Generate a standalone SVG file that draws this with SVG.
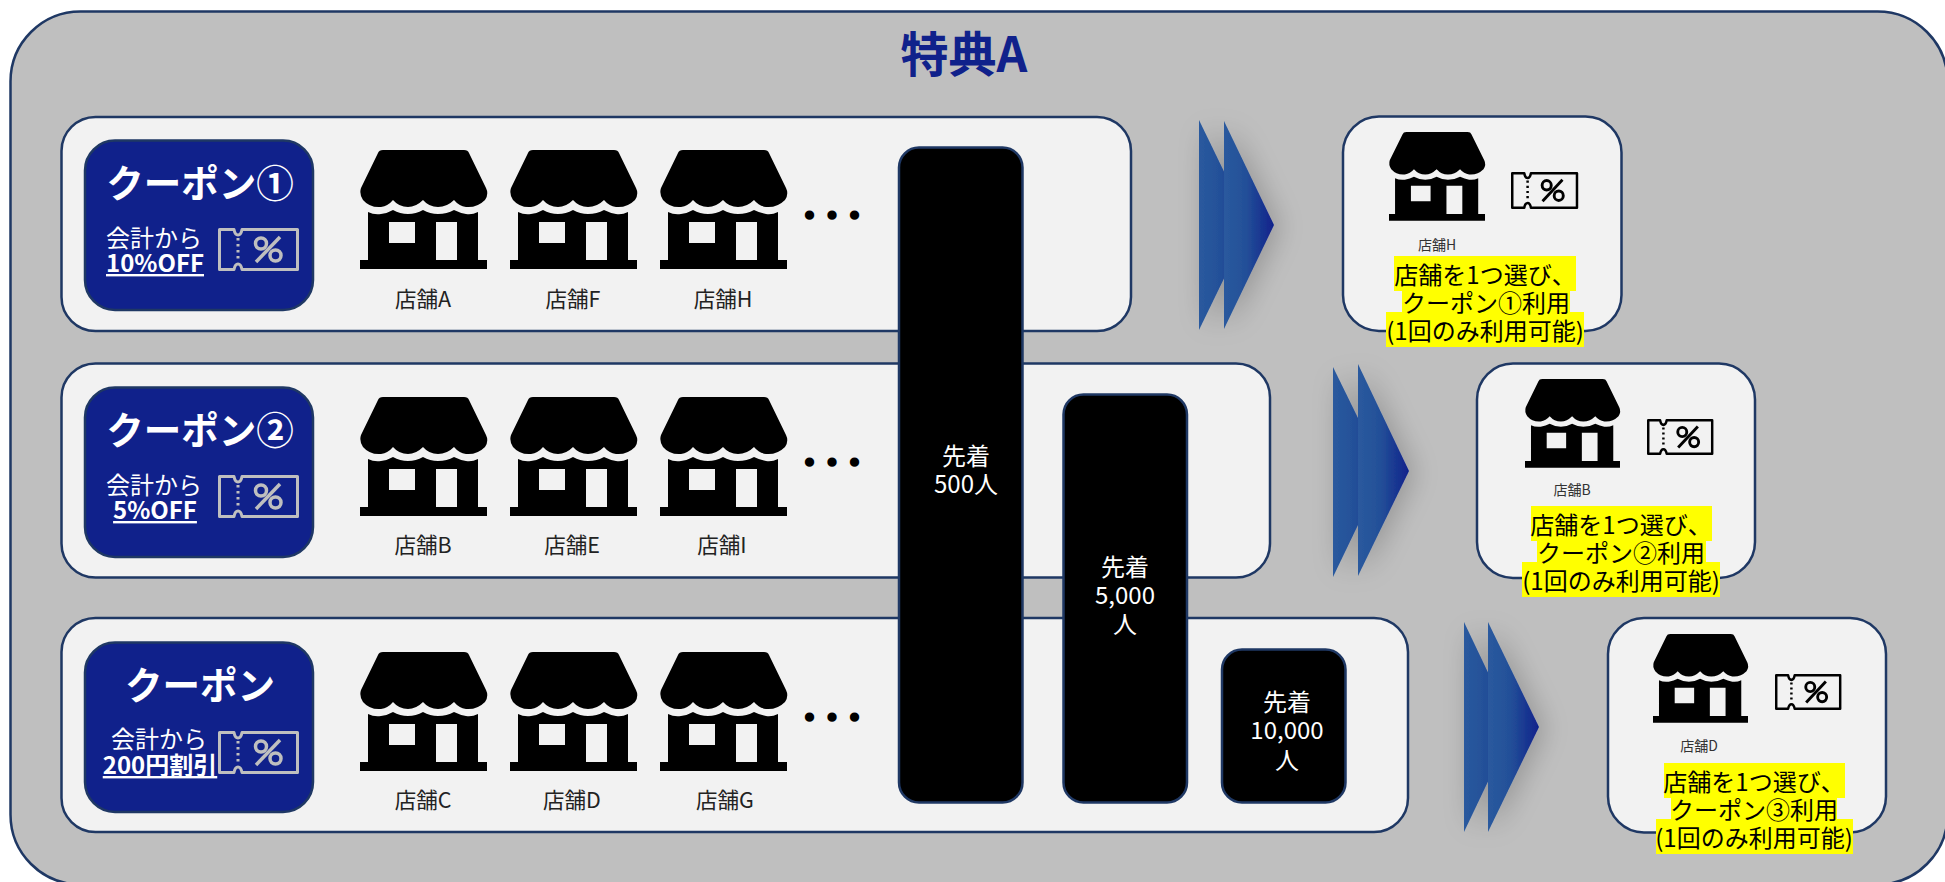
<svg xmlns="http://www.w3.org/2000/svg" width="1945" height="882" viewBox="0 0 1945 882">
<style>
text{font-family:"Noto Sans CJK JP","Noto Sans CJK SC","Liberation Sans",sans-serif;text-anchor:middle}
.outer{fill:#bfbfbf;stroke:#1f3864;stroke-width:2.5}
.panel{fill:#f2f2f2;stroke:#1f3864;stroke-width:2.5}
.coupon{fill:#10218b;stroke:#1f3864;stroke-width:2.5}
.limit{fill:#000;stroke:#1f3864;stroke-width:2.5}
.ttl{font-size:37.5px;font-weight:700;fill:#fff}
.sub{font-size:24px;fill:#fff}
.amt{font-size:24px;font-weight:700;fill:#fff;text-decoration:underline}
.lbl{font-size:21.5px;fill:#222}
.small{font-size:14px;fill:#333}
.lim{font-size:24px;fill:#fff}
.note{font-size:24px;fill:#000}
.hl{fill:#ffff00}
.dots{font-size:22.5px;font-weight:700;fill:#000;stroke:#000;stroke-width:3.5}
.tk{fill:none;stroke-width:3;stroke-linejoin:round}
.tkg{stroke:#bfbfbf}
.tkb{stroke:#000}
</style>
<defs>
<linearGradient id="arrowGrad" x1="0" y1="0" x2="1" y2="0"><stop offset="0" stop-color="#2a5a9e"/><stop offset="0.45" stop-color="#234f98"/><stop offset="1" stop-color="#10218b"/></linearGradient>
<filter id="glow" x="-60%" y="-30%" width="220%" height="160%"><feGaussianBlur in="SourceAlpha" stdDeviation="14"/><feOffset dx="6" dy="2"/><feComponentTransfer><feFuncA type="linear" slope="0.22"/></feComponentTransfer><feMerge><feMergeNode/><feMergeNode in="SourceGraphic"/></feMerge></filter>
<path id="store" fill="#000" fill-rule="evenodd" d="M18 3Q19 0 23 0H104Q108 0 109 3L126 38Q129 44 125 50Q117 58 106 57Q99 56 94 50Q87 57 78 57Q69 57 63 50Q56 57 48 57Q39 57 33 50Q28 56 21 57Q10 58 3 50Q-1 44 1 38ZM8 62Q14 65 21 64Q28 63 33 60Q40 64 48 64Q56 64 63 60Q70 64 78 64Q87 64 94 60Q100 63 106 64Q112 65 118 62V110H127V119H0V110H8ZM29 72V93H55V72ZM76 72V110H97V72Z"/>
<g id="ticket">
<path d="M1.5 1.5H16Q17 7 20 7Q23 7 24 1.5H79.500V41.500H24Q23 36 20 36Q17 36 16 41.500H1.500Z"/>
<path d="M20 10V34" stroke-dasharray="2.500 3.500"/>
<path d="M38 34L62 9" stroke-width="3.500"/>
<circle cx="43" cy="15.500" r="5.500" stroke-width="3.500"/>
<circle cx="57.500" cy="27.500" r="5.500" stroke-width="3.500"/>
</g>
</defs>

<rect id="bg" width="1945" height="882" fill="#fff"/>
<g id="frame">
<rect class="outer" x="10.500" y="11.500" width="1937" height="873" rx="70"/>
<text x="964" y="72" font-size="48" font-weight="700" fill="#10218b">特典A</text>
</g>

<g id="row1">
<rect class="panel" x="61.500" y="117" width="1069.500" height="214" rx="34"/>
<g id="coupon1"><rect class="coupon" x="85" y="140.500" width="228" height="169.500" rx="30"/>
<text class="ttl" x="200" y="197">クーポン①</text><text class="sub" x="154" y="247">会計から</text><text class="amt" x="155" y="272">10%OFF</text>
<use href="#ticket" class="tk tkg" x="218" y="228"/></g>
<g id="store1a"><use href="#store" x="360" y="150"/><text class="lbl" x="423" y="307">店舗A</text></g>
<g id="store1b"><use href="#store" x="510" y="150"/><text class="lbl" x="573" y="307">店舗F</text></g>
<g id="store1c"><use href="#store" x="660" y="150"/><text class="lbl" x="723" y="307">店舗H</text></g>
<text class="dots" x="832" y="224">・・・</text>
</g>

<g id="row2">
<rect class="panel" x="61.500" y="363.500" width="1208.500" height="214" rx="34"/>
<g id="coupon2"><rect class="coupon" x="85" y="387.500" width="228" height="169.500" rx="30"/>
<text class="ttl" x="200" y="444">クーポン②</text><text class="sub" x="154" y="494">会計から</text><text class="amt" x="155" y="519">5%OFF</text>
<use href="#ticket" class="tk tkg" x="218" y="475"/></g>
<g id="store2a"><use href="#store" x="360" y="397"/><text class="lbl" x="423" y="553">店舗B</text></g>
<g id="store2b"><use href="#store" x="510" y="397"/><text class="lbl" x="572" y="553">店舗E</text></g>
<g id="store2c"><use href="#store" x="660" y="397"/><text class="lbl" x="722" y="553">店舗I</text></g>
<text class="dots" x="832" y="471">・・・</text>
</g>

<g id="row3">
<rect class="panel" x="61.500" y="618" width="1346.500" height="214" rx="34"/>
<g id="coupon3"><rect class="coupon" x="85" y="642.500" width="228" height="169.500" rx="30"/>
<text class="ttl" x="200" y="699">クーポン</text><text class="sub" x="159" y="748">会計から</text><text class="amt" x="160" y="774">200円割引</text>
<use href="#ticket" class="tk tkg" x="218" y="731"/></g>
<g id="store3a"><use href="#store" x="360" y="652"/><text class="lbl" x="423" y="808">店舗C</text></g>
<g id="store3b"><use href="#store" x="510" y="652"/><text class="lbl" x="572" y="808">店舗D</text></g>
<g id="store3c"><use href="#store" x="660" y="652"/><text class="lbl" x="725" y="808">店舗G</text></g>
<text class="dots" x="832" y="726">・・・</text>
</g>

<g id="limit500"><rect class="limit" x="899" y="147.500" width="123.500" height="655" rx="20"/>
<text class="lim" x="966" y="465">先着</text><text class="lim" x="966" y="493">500人</text></g>
<g id="limit5000"><rect class="limit" x="1063.500" y="394.500" width="123.500" height="408" rx="20"/>
<text class="lim" x="1125" y="576">先着</text><text class="lim" x="1125" y="604">5,000</text><text class="lim" x="1125" y="633">人</text></g>
<g id="limit10000"><rect class="limit" x="1222" y="649.500" width="123.500" height="153" rx="20"/>
<text class="lim" x="1287" y="711">先着</text><text class="lim" x="1287" y="739">10,000</text><text class="lim" x="1287" y="769">人</text></g>

<g id="connectors">
<g filter="url(#glow)"><polygon points="1199,120 1250,225 1199,330" fill="url(#arrowGrad)"/><polygon points="1224,121 1274,225 1224,329" fill="url(#arrowGrad)"/></g>
<g filter="url(#glow)"><polygon points="1333,367 1384,471 1333,577" fill="url(#arrowGrad)"/><polygon points="1358,364 1409,471 1358,576" fill="url(#arrowGrad)"/></g>
<g filter="url(#glow)"><polygon points="1464,622 1514,727 1464,832" fill="url(#arrowGrad)"/><polygon points="1488,622 1539,727 1488,832" fill="url(#arrowGrad)"/></g>
</g>

<g id="card1">
<rect class="panel" x="1343" y="116.500" width="278.500" height="214.500" rx="36"/>
<use href="#store" transform="translate(1389 132) scale(.756 .745)"/>
<use href="#ticket" class="tk tkb" transform="translate(1511 172) scale(.83 .86)"/>
<text class="small" x="1437" y="250">店舗H</text>
<rect class="hl" x="1394" y="256" width="182" height="35"/><rect class="hl" x="1402" y="291" width="168" height="22"/><rect class="hl" x="1386" y="312" width="198" height="35"/>
<text class="note" x="1485" y="284">店舗を1つ選び、</text><text class="note" x="1486" y="312">クーポン①利用</text><text class="note" x="1485" y="340">(1回のみ利用可能)</text>
</g>
<g id="card2">
<rect class="panel" x="1477" y="363.500" width="278" height="214.500" rx="36"/>
<use href="#store" transform="translate(1525 379) scale(.748 .745)"/>
<use href="#ticket" class="tk tkb" transform="translate(1647 419) scale(.82 .84)"/>
<text class="small" x="1572" y="495">店舗B</text>
<rect class="hl" x="1531" y="506" width="181" height="35"/><rect class="hl" x="1537" y="541" width="169" height="22"/><rect class="hl" x="1522" y="562" width="198" height="35"/>
<text class="note" x="1621" y="534">店舗を1つ選び、</text><text class="note" x="1621" y="562">クーポン②利用</text><text class="note" x="1621" y="590">(1回のみ利用可能)</text>
</g>
<g id="card3">
<rect class="panel" x="1608" y="618" width="278" height="214.500" rx="36"/>
<use href="#store" transform="translate(1653 634) scale(.748 .745)"/>
<use href="#ticket" class="tk tkb" transform="translate(1775 674) scale(.82 .84)"/>
<text class="small" x="1699" y="751">店舗D</text>
<rect class="hl" x="1664" y="763" width="181" height="35"/><rect class="hl" x="1671" y="798" width="166" height="22"/><rect class="hl" x="1656" y="819" width="197" height="35"/>
<text class="note" x="1754" y="791">店舗を1つ選び、</text><text class="note" x="1754" y="819">クーポン③利用</text><text class="note" x="1754" y="847">(1回のみ利用可能)</text>
</g>
</svg>
